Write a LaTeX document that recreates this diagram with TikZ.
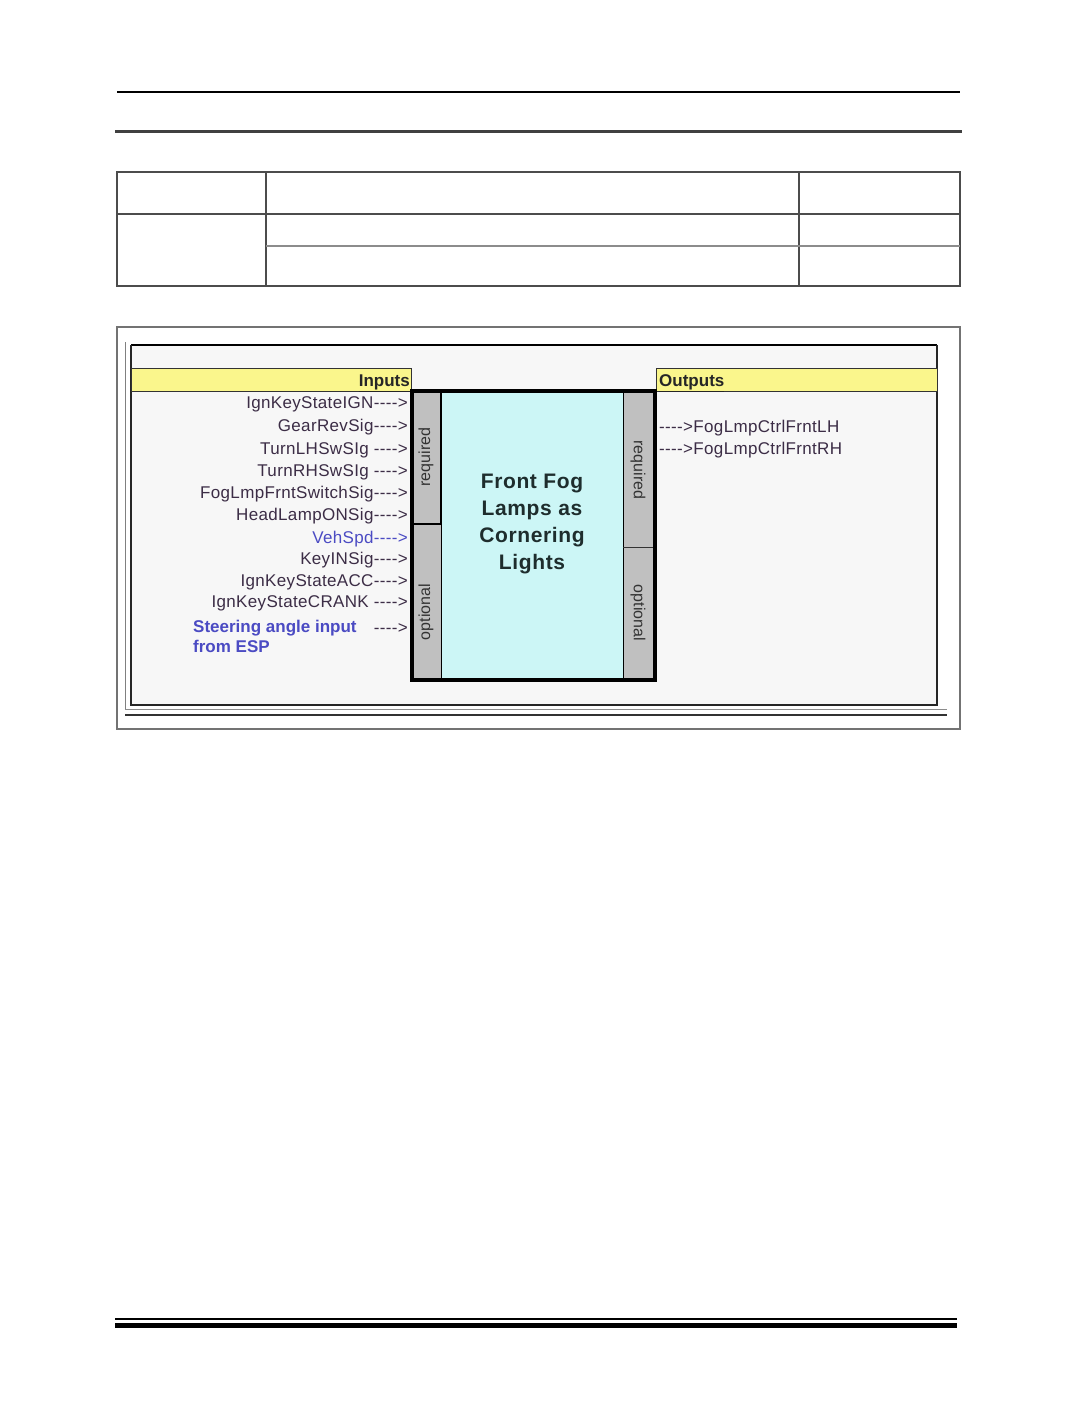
\documentclass[tikz,border=0pt]{standalone}
\usepackage{fontspec}
\setmainfont{Liberation Sans}[Ligatures=TeXOff]
\usepackage{tikz}
\usetikzlibrary{positioning}
\usepackage{xcolor}
\definecolor{sigtext}{RGB}{60,45,70}
\definecolor{sigblue}{RGB}{75,75,195}
\definecolor{hdryellow}{RGB}{250,246,140}
\definecolor{blockcyan}{RGB}{204,246,246}
\definecolor{stripgray}{RGB}{192,192,192}
\definecolor{panelbg}{RGB}{247,247,247}

\begin{document}
\begin{tikzpicture}[x=1pt, y=-1pt,
    sig/.style={anchor=mid east, inner sep=0pt, text=sigtext, font=\fontsize{17}{20}\selectfont\addfontfeatures{LetterSpace=2}},
    outsig/.style={anchor=mid west, inner sep=0pt, text=sigtext, font=\fontsize{17}{20}\selectfont\addfontfeatures{LetterSpace=2}},
    striplbl/.style={inner sep=0pt, text=black!80, font=\fontsize{16}{18}\selectfont},
    hdr/.style={inner sep=0pt, text=black!85, font=\bfseries\fontsize{17}{20}\selectfont},
    tblline/.style={draw=black!70, line width=1.2pt}]
                    % Page
                    \useasboundingbox (0,0) rectangle (1075,1422);
                    \fill[white] (0,0) rectangle (1075,1422);
                    % Header rules
                    \draw[line width=1.5pt] (117,92) -- (960,92);
                    \draw[black!75, line width=3pt] (115,131) -- (962,131);
                    % Table
                    \draw[tblline] (117,172) rectangle (960,286);
                    \draw[tblline] (117,214) -- (960,214);
                    \draw[tblline] (266,172) -- (266,286);
                    \draw[tblline] (799,172) -- (799,286);
                    \draw[black!45, line width=2pt] (266,246) -- (799,246);
                    \draw[black!45, line width=2pt] (799,246) -- (960,246);
                    % Diagram frame
                    \draw[black!55, line width=1.2pt, fill=white] (117,327) rectangle (960,729);
                    \fill[panelbg] (131,345) rectangle (937,705);
                    \draw[black!50, line width=1pt] (125,342) -- (125,709);
                    \draw[line width=1.6pt] (131,345) -- (937,345);
                    \draw[black!85, line width=1.2pt] (131,345) -- (131,705) -- (937,705) -- (937,345);
                    \draw[black!45, line width=1pt] (125,709) -- (947,709);
                    \draw[black!80, line width=2.2pt] (125,715) -- (947,715);
                    % Headers
                    \draw[black!80, fill=hdryellow, line width=1pt] (131,368) rectangle (411,391);
                    \draw[black!80, fill=hdryellow, line width=1pt] (656,368) rectangle (937,391);
                    \node[hdr, anchor=base east] (inputs) at (410,386) {\underline{Inputs}};
                    \node[hdr, anchor=base west] (outputs) at (659,386) {\underline{Outputs}};
                    % Function block
                    \fill[blockcyan] (441,391) rectangle (623,680);
                    \fill[stripgray] (412,391) rectangle (441,680);
                    \fill[stripgray] (623,391) rectangle (654,680);
                    \draw[line width=2.2pt] (441,391) -- (441,524);
                    \draw[line width=1pt] (441,524) -- (441,680);
                    \draw[line width=1pt] (623,391) -- (623,680);
                    \draw[line width=2.2pt] (412,524) -- (441,524);
                    \draw[black!80, line width=1pt] (623,547) -- (654,547);
                    \draw[line width=3.5pt] (412,391) rectangle (655,680);
                    \node[striplbl, rotate=90] (reqin) at (426,457) {required};
                    \node[striplbl, rotate=90] (optin) at (426,612) {optional};
                    \node[striplbl, rotate=-90] (reqout) at (638,470) {required};
                    \node[striplbl, rotate=-90] (optout) at (638,613) {optional};
                    \node[align=center, text={rgb,255:red,30;green,45;blue,45}, inner sep=0pt,
                          font=\bfseries\fontsize{21}{26.7}\selectfont\addfontfeatures{LetterSpace=3}] (fnblock) at (532,524) {Front Fog\\Lamps as\\Cornering\\Lights};
                    % Inputs
                    \node[sig] (ignign) at (408,406) {IgnKeyStateIGN---->};
                    \node[sig] (gearrev) at (408,429) {GearRevSig---->};
                    \node[sig] (turnlh) at (408,452) {TurnLHSwSIg ---->};
                    \node[sig] (turnrh) at (408,474) {TurnRHSwSIg ---->};
                    \node[sig] (fogswitch) at (408,496) {FogLmpFrntSwitchSig---->};
                    \node[sig] (headlamp) at (408,518) {HeadLampONSig---->};
                    \node[sig, text=sigblue] (vehspd) at (408,541) {VehSpd---->};
                    \node[sig] (keyin) at (408,562) {KeyINSig---->};
                    \node[sig] (ignacc) at (408,584) {IgnKeyStateACC---->};
                    \node[sig] (igncrank) at (408,605) {IgnKeyStateCRANK ---->};
                    \node[sig] (steerarr) at (408,631) {---->};
                    \node[anchor=north west, inner sep=0pt, align=left, text=sigblue,
                          font=\bfseries\fontsize{17}{20}\selectfont] (steer) at (193,620) {Steering angle input\\from ESP};
                    % Outputs
                    \node[outsig] (foglh) at (659,430) {---->FogLmpCtrlFrntLH};
                    \node[outsig] (fogrh) at (659,452) {---->FogLmpCtrlFrntRH};
                    % Footer rules
                    \draw[line width=1.5pt] (115,1319) -- (957,1319);
                    \draw[line width=5pt] (115,1325) -- (957,1325);
                \end{tikzpicture}
\end{document}
